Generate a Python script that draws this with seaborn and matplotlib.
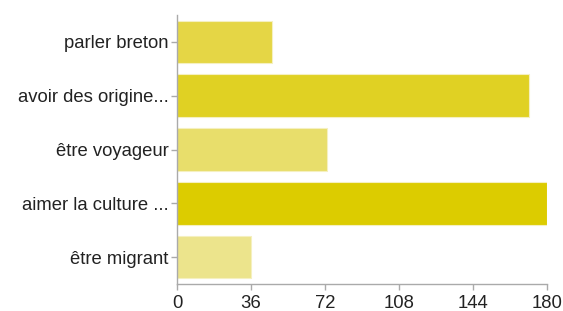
import matplotlib
matplotlib.use("Agg")
import matplotlib.pyplot as plt
import seaborn as sns
import pandas as pd

categories = ["parler breton", "avoir des origine...", "être voyageur", "aimer la culture ...", "être migrant"]
values = [46, 171, 73, 180, 36]
colors = ["#E5D645", "#E0D123", "#E8DE6B", "#DCCC00", "#ECE48C"]
xticks = [0, 36, 72, 108, 144, 180]

sns.set_theme(style="white")
plt.rcParams['font.family'] = ['Liberation Sans', 'DejaVu Sans']

df = pd.DataFrame({"cat": categories, "val": values})

fig = plt.figure(figsize=(5.63, 3.11), dpi=100)
ax = fig.add_axes([177/563, 1-284/311, 370/563, 269/311])
sns.barplot(data=df, y="cat", x="val", hue="cat", palette=colors, legend=False,
            width=0.79, ax=ax, edgecolor="#f5f0c0", linewidth=0.8, saturation=1)
ax.set_xlim(0, 180)
ax.set_ylim(4.5, -0.5)
ax.set_xticks(xticks)
ax.set_xticklabels([str(t) for t in xticks])
ax.set_xlabel("")
ax.set_ylabel("")
for s in ["top", "right"]:
    ax.spines[s].set_visible(False)
for s in ["left", "bottom"]:
    ax.spines[s].set_color("#aaaaaa")
    ax.spines[s].set_linewidth(1)
ax.tick_params(axis="both", which="both", length=4, width=1, color="#aaaaaa",
               labelsize=13.3, labelcolor="#222222", pad=2, left=True, bottom=True)
ax.tick_params(axis="x", pad=4)
fig.savefig("out.png", dpi=100)
